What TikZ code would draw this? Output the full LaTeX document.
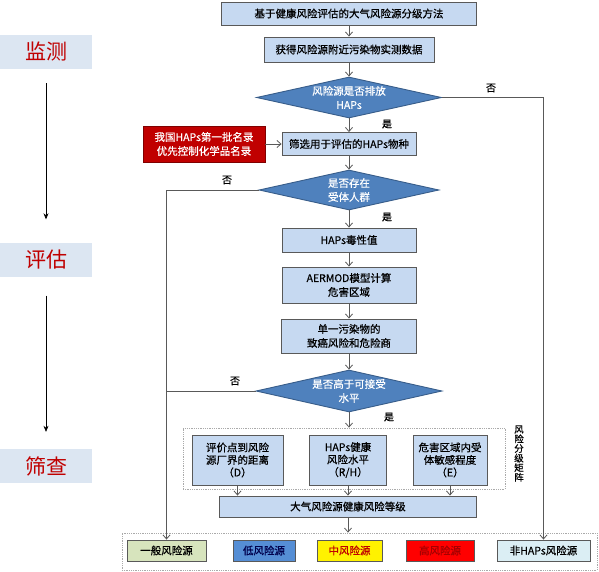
\documentclass[tikz,border=0pt]{standalone}
\usepackage{fontspec}
\setmainfont{Noto Sans CJK SC}[UprightFeatures={FakeBold=0.6}]
\newfontfamily\tagfont{Noto Sans CJK SC}
\usetikzlibrary{arrows.meta,shapes.geometric}
\definecolor{boxc}{RGB}{198,217,241}
\definecolor{diac}{RGB}{79,129,189}
\definecolor{diab}{RGB}{56,93,138}
\definecolor{linec}{RGB}{89,89,89}
\definecolor{redc}{RGB}{192,0,0}
\definecolor{tagc}{RGB}{220,230,242}
\definecolor{genc}{RGB}{215,228,189}
\definecolor{lowc}{RGB}{85,142,213}
\definecolor{nonc}{RGB}{219,238,244}
\definecolor{framec}{RGB}{170,170,170}

\begin{document}
\begin{tikzpicture}[x=1pt,y=-1pt,font=\fontsize{10.5}{14}\selectfont,
  >={Straight Barb[length=4pt,width=7pt]},
  stepbox/.style={draw=black!65,line width=0.9pt,fill=boxc,inner sep=0pt,align=center},
  decide/.style={diamond,aspect=4.5,draw=diab,line width=0.9pt,fill=diac,text=white,
    inner sep=0pt,align=center},
  frame/.style={draw=framec,densely dotted,line width=0.8pt,inner sep=0pt},
  classbox/.style={draw=black!65,line width=0.9pt,inner sep=0pt,minimum height=21pt},
  tag/.style={fill=tagc,text=redc,font=\tagfont\fontsize{21}{24}\selectfont,inner sep=0pt,
    minimum width=92pt,minimum height=34pt},
  flow/.style={->,draw=linec,line width=0.8pt},
  lab/.style={font=\fontsize{10}{12}\selectfont}]
\useasboundingbox (0,0) rectangle (599,572);

%================= left: the three stages =================
\node[tag] (mon) at (46,52) {监测};
\node[tag] (eva) at (46,259.5) {评估};
\node[tag] (scr) at (46,466) {筛查};
\draw[-{Stealth[length=6pt,width=5pt]},line width=0.6pt,shorten <=14pt,shorten >=23pt] (mon) -- (eva);
\draw[-{Stealth[length=6pt,width=5pt]},line width=0.6pt,shorten <=19pt,shorten >=17pt] (eva) -- (scr);

%================= main column =================
\node[stepbox,minimum width=255pt,minimum height=23pt] (top) at (349,13.5)
  {基于健康风险评估的大气风险源分级方法};
\node[stepbox,minimum width=170pt,minimum height=25pt] (obs) at (349,49.5)
  {获得风险源附近污染物实测数据};
\node[decide,minimum width=185pt,minimum height=41pt] (d1) at (349,97.5)
  {风险源是否排放\\HAPs};
\node[draw=red!50!black,line width=0.9pt,fill=redc,text=white,inner sep=0pt,align=center,
  minimum width=122pt,minimum height=36pt] (haplist) at (204,144)
  {我国HAPs第一批名录\\优先控制化学品名录};
\node[stepbox,minimum width=134pt,minimum height=23pt] (screen) at (349,144)
  {筛选用于评估的HAPs物种};
\node[decide,minimum width=180pt,minimum height=40pt] (d2) at (349,190)
  {是否存在\\受体人群};
\node[stepbox,minimum width=134pt,minimum height=24pt] (tox) at (349,240) {HAPs毒性值};
\node[stepbox,minimum width=134pt,minimum height=36pt] (aermod) at (349,285)
  {AERMOD模型计算\\危害区域};
\node[stepbox,minimum width=135pt,minimum height=34pt] (single) at (349,336)
  {单一污染物的\\致癌风险和危险商};
\node[decide,minimum width=186pt,minimum height=42pt] (d3) at (349,391)
  {是否高于可接受\\水平};

% --- risk grading matrix
\node[frame,minimum width=322pt,minimum height=61pt] (mat) at (344,458.5) {};
\node[font=\fontsize{9.5}{9.6}\selectfont,align=center,inner sep=0pt] (matlab) at (519,453.5)
  {风\\险\\分\\级\\矩\\阵};
\node[stepbox,font=\fontsize{10.5}{12.5}\selectfont,minimum width=91pt,minimum height=50pt]
  (dist) at (237.5,460) {评价点到风险\\源厂界的距离\\（D）};
\node[stepbox,font=\fontsize{10.5}{12.5}\selectfont,minimum width=77pt,minimum height=50pt]
  (hlevel) at (348,460) {HAPs健康\\风险水平\\（R/H）};
\node[stepbox,font=\fontsize{10.5}{12.5}\selectfont,minimum width=74pt,minimum height=50pt]
  (sens) at (450,460) {危害区域内受\\体敏感程度\\（E）};
\node[stepbox,minimum width=257pt,minimum height=21pt] (grade) at (348,506.5)
  {大气风险源健康风险等级};

% --- the five classes
\node[frame,minimum width=475pt,minimum height=37pt] (cls) at (359.5,551.5) {};
\node[classbox,fill=genc,minimum width=79pt] (general) at (166.5,550.5) {一般风险源};
\node[classbox,fill=lowc,text=blue!30!black,minimum width=62pt] (low) at (264,550.5) {低风险源};
\node[classbox,fill=yellow,text=redc,minimum width=65pt] (mid) at (349.5,550.5) {中风险源};
\node[classbox,fill=red,text=red!65!black,minimum width=68pt] (high) at (440,550.5) {高风险源};
\node[classbox,fill=nonc,minimum width=93pt] (nonhap) at (543.5,550.5) {非HAPs风险源};

% --- yes / no
\node[lab] (yes1) at (387,124) {是};
\node[lab] (no1) at (491,88) {否};
\node[lab] (yes2) at (387,217) {是};
\node[lab] (no2) at (227,180) {否};
\node[lab] (no3) at (235,381) {否};
\node[lab] (yes3) at (389,417) {是};

% --- connectors
\draw[flow] (top) -- (obs);
\draw[flow] (obs) -- (d1);
\draw[flow] (d1) -- (screen);
\draw[flow] (haplist) -- (screen);
\draw[flow] (screen) -- (d2);
\draw[flow] (d2) -- (tox);
\draw[flow] (tox) -- (aermod);
\draw[flow] (aermod) -- (single);
\draw[flow] (single) -- (d3);
\draw[flow] (d3.south) -- (d3.south |- mat.north);
\foreach \b in {dist,hlevel,sens}{
  \draw[flow] (\b.south) -- (\b.south |- grade.north);}
\draw[flow] (grade.south) -- (grade.south |- cls.north);
\draw[flow] (d1.east) -| (nonhap.north);
\draw[flow] (d2.west) -| (general.north);
\draw[draw=linec,line width=0.8pt] (d3.west) -- (d3.west -| general.north);
\end{tikzpicture}
\end{document}
